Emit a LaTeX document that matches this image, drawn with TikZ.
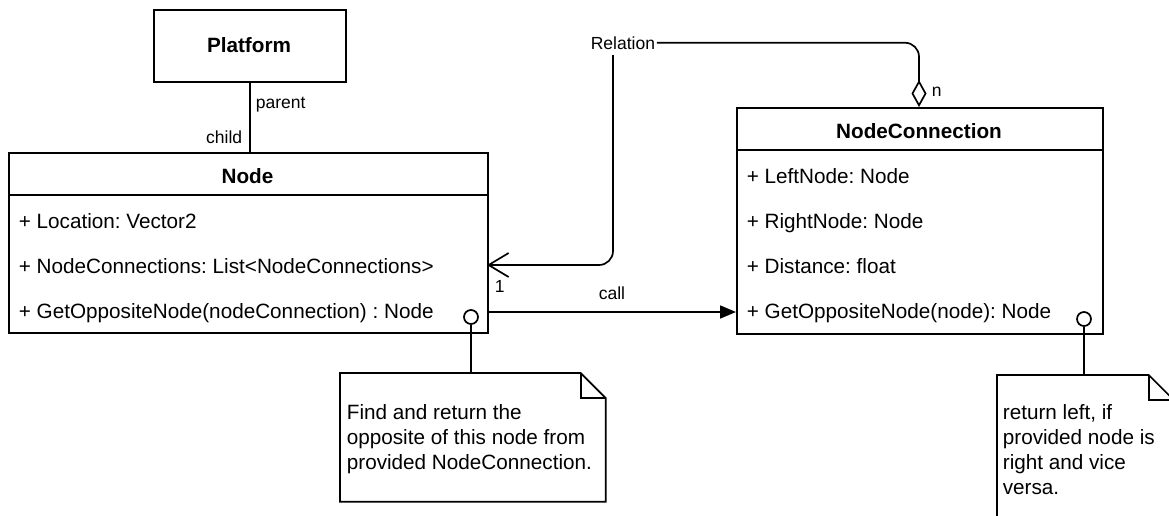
\documentclass[tikz,border=0pt]{standalone}
\usepackage{fontspec}
\setmainfont{Liberation Sans}
\usetikzlibrary{arrows.meta}
\frenchspacing
\begin{document}
\begin{tikzpicture}[x=1pt,y=-1pt,line width=1.7pt,
  box/.style={draw,rectangle,inner sep=0pt,anchor=north west},
  ttl/.style={inner sep=0pt,anchor=base,font=\fontsize{20.7}{24.8}\selectfont\bfseries},
  row/.style={inner sep=0pt,anchor=base west,font=\fontsize{20.7}{24.8}\selectfont},
  lbl/.style={inner sep=0pt,font=\fontsize{17.5}{21}\selectfont},
  notetxt/.style={inner sep=0pt,anchor=north west,align=left,font=\fontsize{20.7}{24.8}\selectfont},
  noteframe/.style={rectangle,inner sep=0pt,anchor=north west},
  lolli/.style={draw,circle,minimum size=14pt,inner sep=0pt,fill=white},
  assoc/.style={rounded corners=14pt}
]
\useasboundingbox (0,0) rectangle (1169,515);
\clip (0,0) rectangle (1169,515);

% Platform
\node[box,minimum width=192pt,minimum height=72pt] (platform) at (153,9) {};
\node[ttl] (platformT) at (249,52) {Platform};

% Node class
\node[box,minimum width=479pt,minimum height=180pt] (node) at (8,152) {};
\draw ([yshift=-43pt]node.north west) -- ([yshift=-43pt]node.north east);
\node[ttl] (nodeT) at (247.5,183) {Node};
\node[row] (nLoc) at (18,228) {+ Location: Vector2};
\node[row] (nConn) at (18,273) {+ NodeConnections: List<NodeConnections>};
\node[row] (nGet) at (18,318) {+ GetOppositeNode(nodeConnection) : Node};

% NodeConnection class
\node[box,minimum width=366pt,minimum height=226pt] (nc) at (736,107) {};
\draw ([yshift=-43pt]nc.north west) -- ([yshift=-43pt]nc.north east);
\node[ttl] (ncT) at (919,138) {NodeConnection};
\node[row] (ncLeft) at (746,183) {+ LeftNode: Node};
\node[row] (ncRight) at (746,228) {+ RightNode: Node};
\node[row] (ncDist) at (746,273) {+ Distance: float};
\node[row] (ncGet) at (746,318) {+ GetOppositeNode(node): Node};

% parent / child
\draw (platform.south) -- (platform.south |- node.north);
\node[lbl,anchor=base west] (parentL) at (255,108) {parent};
\node[lbl,anchor=base east] (childL) at (243,143) {child};

% Relation
\node[lbl,anchor=base west,inner sep=1pt] (relation) at (589,49) {Relation};
\coordinate (relB) at (613,55);
\coordinate (dia) at (919,107);
\coordinate (arrN) at (487,265);
\draw[assoc,{Diamond[open,length=27pt,width=15pt]}-] (dia) |- (relation.east);
\draw[assoc,-{Straight Barb[length=20pt,width=24pt]}] (relB) |- (arrN);
\node[lbl,anchor=base west] (nL) at (931,96) {n};
\node[lbl,anchor=base west] (oneL) at (494,292) {1};

% call
\draw[-{Triangle[length=16pt,width=13pt]}] (node.east |- 0,312) -- (nc.west |- 0,312);
\node[lbl,anchor=base] (callL) at (612,299) {call};

% Note 1
\node[noteframe,minimum width=264pt,minimum height=127pt] (note1) at (340,373) {};
\draw (note1.north west) -- ([xshift=-25pt]note1.north east) -- ([yshift=-25pt]note1.north east) -- (note1.south east) -- (note1.south west) -- cycle;
\draw ([xshift=-25pt]note1.north east) -- ([xshift=-25pt,yshift=-25pt]note1.north east) -- ([yshift=-25pt]note1.north east);
\node[notetxt] (note1T) at (346,404) {Find and return the\\opposite of this node from\\provided NodeConnection.};
\node[lolli] (lol1) at (471,317) {};
\draw (lol1.south) -- (lol1.south |- note1.north);

% Note 2
\node[noteframe,minimum width=175pt,minimum height=170pt] (note2) at (997,375) {};
\draw (note2.north west) -- ([xshift=-25pt]note2.north east) -- ([yshift=-25pt]note2.north east) -- (note2.south east) -- (note2.south west) -- cycle;
\draw ([xshift=-25pt]note2.north east) -- ([xshift=-25pt,yshift=-25pt]note2.north east) -- ([yshift=-25pt]note2.north east);
\node[notetxt] (note2T) at (1002,404) {return left, if\\provided node is\\right and vice\\versa.};
\node[lolli] (lol2) at (1084,319) {};
\draw (lol2.south) -- (lol2.south |- note2.north);
\end{tikzpicture}
\end{document}
